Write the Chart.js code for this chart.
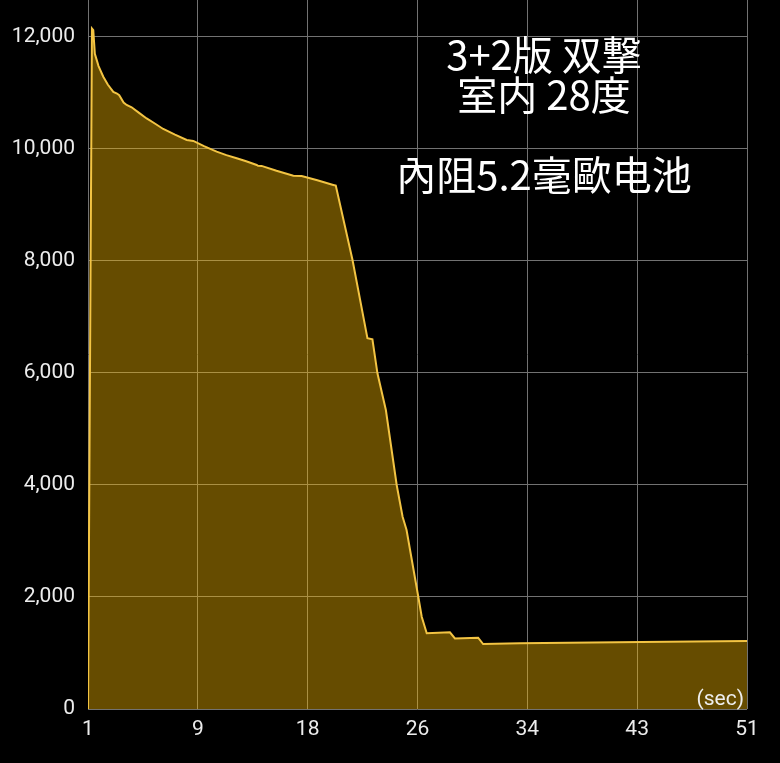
<!DOCTYPE html>
<html>
<head>
<meta charset="utf-8">
<script src="https://cdn.jsdelivr.net/npm/chart.js@4.4.1/dist/chart.umd.min.js"></script>
<style>
    html, body { margin: 0; padding: 0; background: #000; }
    #wrap { width: 780px; height: 763px; }
</style>
</head>
<body>
<div id="wrap"><canvas id="chart" width="780" height="763"></canvas></div>
<script>
// Seconds and power readings traced from the recording
const seconds = [
    1.0, 1.3, 1.4, 1.52, 1.8, 2.16, 2.5, 2.92, 3.2, 3.37, 3.7, 3.93, 4.31,
    4.9, 5.45, 6.1, 6.71, 7.6, 8.49, 8.99, 9.8, 10.76, 11.5, 12.28, 13.0,
    13.8, 13.9, 14.17, 15.3, 16.58, 17.21, 18.4, 19.61, 19.8,
    21.07, 22.2, 22.58, 22.96, 23.6, 24.42, 24.87, 25.17, 26.06, 26.32,
    26.7, 28.46, 28.84, 30.6, 30.98, 33.78, 43.0, 51.0
];
const readings = [
    0, 12150, 12120, 11700, 11480, 11290, 11150, 11020, 10990, 10960, 10830, 10786, 10744,
    10640, 10545, 10450, 10357, 10255, 10161, 10143, 10050, 9952, 9890, 9833, 9780,
    9714, 9700, 9698, 9610, 9523, 9518, 9440, 9357, 9345,
    8018, 6620, 6601, 5994, 5339, 4000, 3434, 3196, 2005, 1648,
    1351, 1369, 1261, 1273, 1160, 1173, 1196, 1214
];

// Axis ticks
const xTickLabels = ['1', '9', '18', '26', '34', '43', '51'];
const yTickValues = [0, 2000, 4000, 6000, 8000, 10000, 12000];

// Text written inside the plot
const noteLines = ['3+2版 双撃', '室内 28度', '', '內阻5.2毫歐电池'];
const unitLabel = '(sec)';

const X_MIN = 1;
const X_MAX = 51;
const Y_MAX = 12660;

const points = seconds.map((s, i) => ({ x: s, y: readings[i] }));

// Draws the note block and the unit label on top of the plot
const notesPlugin = {
    id: 'notes',
    afterDatasetsDraw(chart) {
        const ctx = chart.ctx;
        const area = chart.chartArea;
        ctx.save();
        ctx.fillStyle = '#ffffff';
        ctx.textAlign = 'center';
        ctx.textBaseline = 'middle';
        ctx.font = '40px "Noto Sans CJK JP", "Noto Sans", sans-serif';
        noteLines.forEach((line, i) => {
            if (line) ctx.fillText(line, 544, 55 + i * 40);
        });
        ctx.font = '21px Roboto, "Noto Sans", sans-serif';
        ctx.fillStyle = '#eeeeee';
        ctx.textAlign = 'right';
        ctx.textBaseline = 'bottom';
        ctx.fillText(unitLabel, area.right - 3, area.bottom + 1);
        ctx.restore();
    }
};

const config = {
    type: 'line',
    data: {
        datasets: [{
            data: points,
            borderColor: '#f3c443',
            borderWidth: 2,
            backgroundColor: 'rgba(255, 190, 0, 0.4)',
            fill: 'origin',
            pointRadius: 0,
            tension: 0
        }]
    },
    options: {
        responsive: false,
        animation: false,
        layout: { padding: { left: 0, right: 33, top: 0, bottom: 0 } },
        plugins: {
            legend: { display: false },
            tooltip: { enabled: false }
        },
        scales: {
            x: {
                type: 'linear',
                min: X_MIN,
                max: X_MAX,
                grid: { color: '#727272', lineWidth: 1, drawTicks: false },
                border: { display: false },
                afterBuildTicks: (scale) => {
                    const step = (X_MAX - X_MIN) / (xTickLabels.length - 1);
                    scale.ticks = xTickLabels.map((_, i) => ({ value: X_MIN + i * step }));
                },
                afterFit: (scale) => {
                    scale.height = 54;
                    scale.paddingLeft = 0;
                    scale.paddingRight = 0;
                },
                ticks: {
                    color: '#ececec',
                    font: { family: 'Roboto', size: 21 },
                    padding: 8,
                    maxRotation: 0,
                    autoSkip: false,
                    callback: (value, index) => xTickLabels[index]
                }
            },
            y: {
                min: 0,
                max: Y_MAX,
                grid: { color: '#727272', lineWidth: 1, drawTicks: false },
                border: { display: false },
                afterBuildTicks: (scale) => {
                    scale.ticks = yTickValues.map(v => ({ value: v }));
                },
                afterFit: (scale) => {
                    scale.width = 88;
                    scale.paddingTop = 0;
                    scale.paddingBottom = 0;
                },
                ticks: {
                    color: '#ececec',
                    font: { family: 'Roboto', size: 21 },
                    padding: 13,
                    callback: (value) => value.toLocaleString('en-US')
                }
            }
        }
    },
    plugins: [notesPlugin]
};

new Chart(document.getElementById('chart'), config);
</script>
</body>
</html>
